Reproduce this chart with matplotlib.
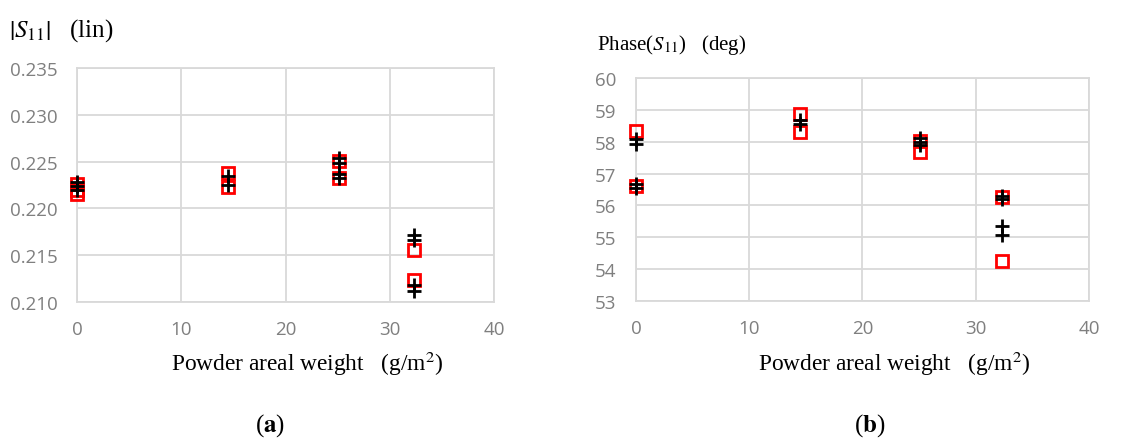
import numpy as np
import matplotlib.pyplot as plt

plt.rcParams['mathtext.fontset'] = 'stix'

# (a) |S11| vs powder areal weight
mag_red_x = [0, 0, 0, 14.5, 14.5, 25.1, 25.1, 32.3, 32.3]
mag_red_y = [0.2226, 0.2220, 0.2215, 0.2238, 0.2223, 0.2251, 0.2233, 0.2156, 0.2123]
mag_blk_x = [0, 0, 0, 14.5, 14.5, 25.1, 25.1, 25.1, 25.1, 32.3, 32.3, 32.3, 32.3]
mag_blk_y = [0.2228, 0.2224, 0.2220, 0.2235, 0.2225, 0.2254, 0.2248, 0.2237, 0.2232,
             0.2172, 0.2166, 0.2118, 0.2112]

# (b) Phase(S11) vs powder areal weight
ph_red_x = [0, 0, 14.5, 14.5, 25.1, 25.1, 32.3, 32.3]
ph_red_y = [58.34, 56.61, 58.86, 58.32, 58.02, 57.68, 56.27, 54.26]
ph_blk_x = [0, 0, 0, 0, 14.5, 14.5, 25.1, 25.1, 25.1, 32.3, 32.3, 32.3, 32.3]
ph_blk_y = [58.10, 57.92, 56.66, 56.56, 58.68, 58.55, 58.12, 58.00, 57.90,
            56.30, 56.20, 55.34, 55.07]

xticks = [0, 10, 20, 30, 40]
mag_ticks = [0.210, 0.215, 0.220, 0.225, 0.230, 0.235]
ph_ticks = [53, 54, 55, 56, 57, 58, 59, 60]

grid_c = '#d9d9d9'
tick_c = '#7f7f7f'
serif = 'Liberation Serif'

fig = plt.figure(figsize=(11.48, 4.39), dpi=100)
ax1 = fig.add_axes([0.0671, 0.3098, 0.3632, 0.533])
ax2 = fig.add_axes([0.554, 0.312, 0.3946, 0.508])


def style(ax, yticks, fmt, label_x, label_y):
    ax.set_xlim(0, 40)
    ax.set_ylim(yticks[0], yticks[-1])
    ax.set_xticks(xticks)
    ax.set_yticks(yticks)
    ax.set_yticklabels([fmt % v for v in yticks])
    ax.grid(True, color=grid_c, linewidth=1.3)
    ax.set_axisbelow(True)
    for s in ax.spines.values():
        s.set_color(grid_c)
        s.set_linewidth(1.3)
    ax.tick_params(length=0, colors=tick_c, labelsize=13.5)
    ax.tick_params(axis='y', pad=14)
    ax.tick_params(axis='x', pad=13)
    for lab in ax.get_xticklabels() + ax.get_yticklabels():
        lab.set_fontfamily('Open Sans')
    ax.set_xlabel(r'Powder areal weight   (g/m$^2$)', fontsize=16.8,
                  fontfamily=serif, color='black')
    ax.xaxis.set_label_coords(label_x, label_y)


style(ax1, mag_ticks, '%.3f', 0.552, -0.2)
style(ax2, ph_ticks, '%d', 0.57, -0.215)

for ax, rx, ry, bx, by in [(ax1, mag_red_x, mag_red_y, mag_blk_x, mag_blk_y),
                           (ax2, ph_red_x, ph_red_y, ph_blk_x, ph_blk_y)]:
    ax.plot(rx, ry, 's', markersize=9, markerfacecolor='none',
            markeredgecolor='#ff0000', markeredgewidth=2, clip_on=False, zorder=3)
    ax.plot(bx, by, '+', markersize=10, color='black',
            markeredgewidth=2, clip_on=False, zorder=4)

fig.text(0.008, 0.93, r'$\left|S_{11}\right|$   (lin)', fontsize=18,
         fontfamily=serif, va='center', ha='left')
fig.text(0.52, 0.897, r'Phase($S_{11}$)   (deg)', fontsize=15,
         fontfamily=serif, va='center', ha='left')

fig.text(0.235, 0.03, r'($\mathbf{a}$)', fontsize=18, fontfamily=serif,
         ha='center', va='center')
fig.text(0.758, 0.03, r'($\mathbf{b}$)', fontsize=18, fontfamily=serif,
         ha='center', va='center')

fig.savefig('out.png', dpi=100)
